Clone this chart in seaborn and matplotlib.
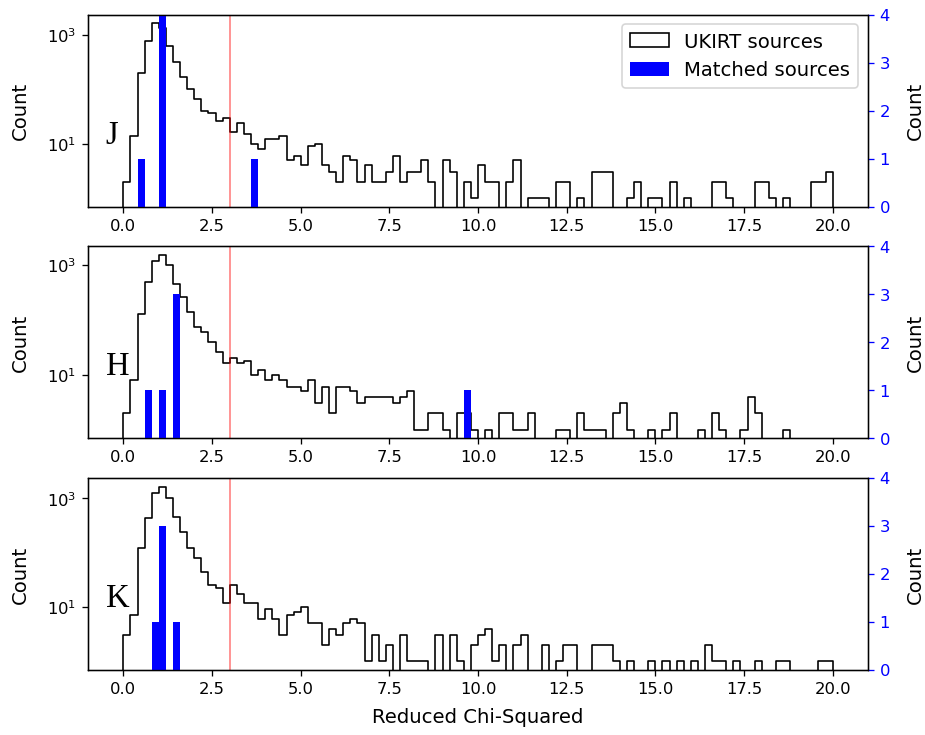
import numpy as np
import pandas as pd
import matplotlib
matplotlib.use("Agg")
import matplotlib.pyplot as plt
from matplotlib.patches import Patch
from matplotlib.ticker import NullLocator
import seaborn as sns

# -- data (0.2-wide bins from 0 to 20) ---------------------------------------

BANDS = ["J", "H", "K"]

UKIRT_J = [2, 14, 194, 771, 1630, 1350, 624, 322, 164, 100,
           67, 40, 36, 26, 30, 16, 24, 15, 10, 8,
           12, 12, 14, 5, 6, 4, 9, 10, 4, 3,
           2, 6, 5, 2, 4, 2, 2, 3, 6, 2,
           3, 3, 5, 2, 0, 5, 3, 0, 2, 1,
           4, 2, 2, 0, 2, 5, 0, 1, 1, 1,
           0, 2, 2, 0, 1, 0, 3, 3, 3, 0,
           0, 1, 2, 0, 1, 1, 0, 2, 0, 1,
           0, 0, 0, 2, 2, 1, 0, 0, 0, 2,
           2, 1, 0, 1, 0, 0, 0, 2, 2, 3]

UKIRT_H = [2, 8, 127, 490, 1180, 1520, 1000, 458, 257, 138,
           73, 59, 39, 26, 16, 20, 16, 18, 10, 12,
           8, 10, 8, 6, 6, 5, 8, 3, 6, 2,
           6, 6, 5, 3, 4, 4, 4, 4, 3, 4,
           5, 1, 1, 2, 2, 1, 0, 2, 2, 1,
           0, 1, 0, 2, 2, 1, 1, 2, 0, 0,
           0, 1, 1, 0, 2, 1, 1, 1, 0, 2,
           3, 1, 0, 0, 1, 0, 1, 2, 0, 0,
           0, 1, 0, 2, 1, 0, 0, 1, 4, 2,
           0, 0, 0, 1, 0, 0, 0, 0, 0, 0]

UKIRT_K = [3, 7, 122, 433, 1280, 1650, 1035, 446, 236, 120,
           79, 45, 25, 22, 12, 25, 17, 12, 12, 6,
           9, 6, 3, 7, 8, 10, 5, 5, 2, 4,
           3, 5, 6, 5, 1, 3, 1, 2, 0, 3,
           1, 1, 1, 0, 3, 0, 3, 1, 0, 2,
           3, 4, 1, 2, 0, 2, 3, 0, 0, 2,
           0, 1, 2, 2, 0, 0, 2, 2, 2, 1,
           0, 1, 0, 0, 1, 0, 1, 0, 1, 0,
           1, 0, 2, 1, 1, 0, 1, 0, 0, 1,
           0, 0, 1, 1, 0, 0, 0, 0, 1, 1]

# matched sources: bin index -> count
MATCHED_J_BINS = [2, 5, 18]
MATCHED_J_N = [1, 4, 1]
MATCHED_H_BINS = [3, 5, 7, 48]
MATCHED_H_N = [1, 1, 3, 1]
MATCHED_K_BINS = [4, 5, 7]
MATCHED_K_N = [1, 3, 1]

BIN_WIDTH = 0.2
N_BINS = 100
CHI2_CUT = 3.0

# -- style --------------------------------------------------------------------

DPI = 117.5
plt.rcParams.update({
    "font.family": "DejaVu Sans",
    "font.size": 10,
    "axes.labelsize": 12,
    "legend.fontsize": 12,
})


def band_frame(counts):
    counts = np.asarray(counts)
    centers = (np.arange(N_BINS) + 0.5) * BIN_WIDTH
    keep = counts > 0
    return pd.DataFrame({"chi2": centers[keep], "n": counts[keep]})


def matched_frame(bins, n):
    centers = (np.asarray(bins) + 0.5) * BIN_WIDTH
    return pd.DataFrame({"chi2": centers, "n": n})


def log_limits(counts):
    # same 5% log margin matplotlib uses for a log-scaled histogram
    top = np.log10(max(counts))
    return 10 ** (-0.05 * top), 10 ** (1.05 * top)


def main():
    # pad one empty bin each side so the step outline closes at 0 and 20
    edges = [round(b * BIN_WIDTH, 1) for b in range(-1, N_BINS + 2)]

    ukirt = {"J": UKIRT_J, "H": UKIRT_H, "K": UKIRT_K}
    matched = {
        "J": (MATCHED_J_BINS, MATCHED_J_N),
        "H": (MATCHED_H_BINS, MATCHED_H_N),
        "K": (MATCHED_K_BINS, MATCHED_K_N),
    }

    fig, axes = plt.subplots(3, 1, figsize=(925.5 / DPI, 735.5 / DPI), dpi=DPI)
    fig.subplots_adjust(left=0.095, right=0.938, top=0.9796, bottom=0.0884,
                        hspace=0.206)

    for i, (ax, band) in enumerate(zip(axes, BANDS)):
        sns.histplot(data=band_frame(ukirt[band]), x="chi2", weights="n",
                     bins=edges, element="step", fill=False, color="black",
                     linewidth=1.0, ax=ax)
        ax.set_yscale("log")
        ax.set_ylim(*log_limits(ukirt[band]))
        ax.set_yticks([10, 1000])
        ax.yaxis.set_minor_locator(NullLocator())
        ax.axvline(CHI2_CUT, color="red", alpha=0.5, linewidth=1.0)
        ax.text(-0.5, 10, band, fontsize=20, family="Liberation Serif")
        ax.set_ylabel("Count", labelpad=10.5)
        if i == 2:
            ax.set_xlabel("Reduced Chi-Squared", labelpad=7)
        else:
            ax.set_xlabel("")

        ax2 = ax.twinx()
        mb, mn = matched[band]
        sns.histplot(data=matched_frame(mb, mn), x="chi2", weights="n",
                     bins=edges, element="bars", color="blue", alpha=1.0,
                     linewidth=0, ax=ax2)
        ax2.set_ylim(0, 4)
        ax2.set_yticks(range(5))
        ax2.tick_params(axis="y", colors="blue")
        ax2.set_ylabel("Count", color="black", labelpad=10)
        ax.set_xlim(-1, 21)

        if i == 0:
            handles = [
                Patch(facecolor="none", edgecolor="black", linewidth=1.0,
                      label="UKIRT sources"),
                Patch(facecolor="blue", label="Matched sources"),
            ]
            ax2.legend(handles=handles, loc="upper right")

    fig.savefig("out.png", dpi=DPI)


if __name__ == "__main__":
    main()
